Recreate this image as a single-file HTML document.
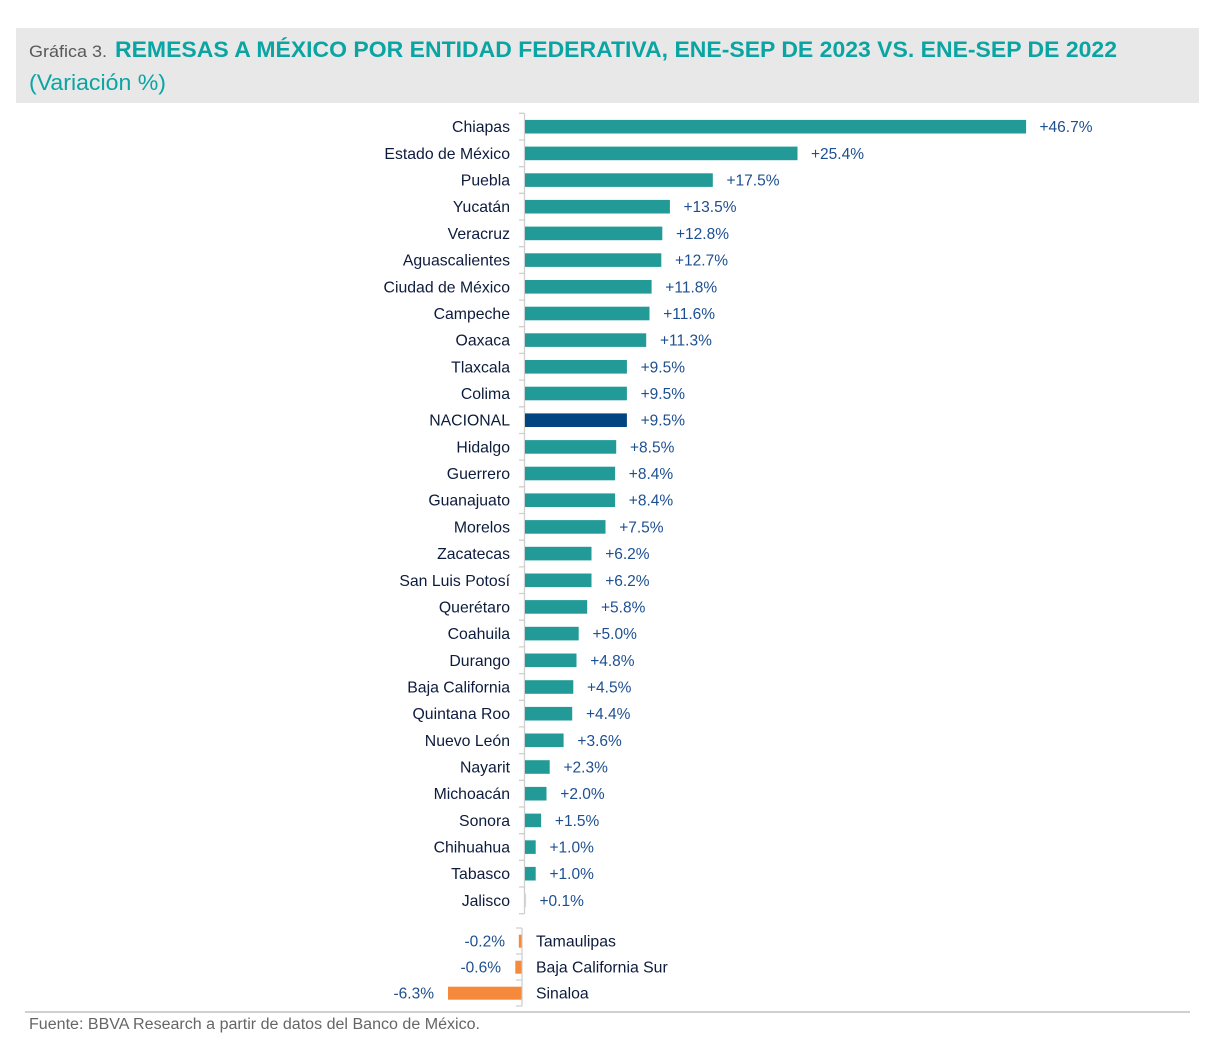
<!DOCTYPE html>
<html><head><meta charset="utf-8"><style>
html,body{margin:0;padding:0;background:#fff;}
svg{display:block;}
text{font-family:"Liberation Sans",Arial,sans-serif;}
.l{font-size:15.8px;fill:#0d1b3c;text-anchor:end;}
.v{font-size:15.5px;fill:#1d4f91;}
.vn{font-size:15.5px;fill:#1d4f91;text-anchor:end;}
.ln{font-size:15.8px;fill:#0d1b3c;}
</style></head><body>
<svg width="1212" height="1040" viewBox="0 0 1212 1040" xmlns="http://www.w3.org/2000/svg">
<rect x="16" y="28" width="1183" height="75" fill="#e8e8e8"/>
<text x="29" y="57" font-size="17" fill="#595959" textLength="78" lengthAdjust="spacingAndGlyphs">Gráfica 3.</text>
<text x="115" y="57" font-size="22" font-weight="bold" fill="#0aa5a3" textLength="1002" lengthAdjust="spacingAndGlyphs">REMESAS A MÉXICO POR ENTIDAD FEDERATIVA, ENE-SEP DE 2023 VS. ENE-SEP DE 2022</text>
<text x="29" y="90" font-size="22.5" fill="#0aa5a3" textLength="137" lengthAdjust="spacingAndGlyphs">(Variación %)</text>

<path d="M524.5 113.3V913.7" stroke="#cfcfcf" stroke-width="1.3" fill="none"/>
<path d="M519 113.3H524.5M519 140H524.5M519 166.7H524.5M519 193.3H524.5M519 220H524.5M519 246.7H524.5M519 273.4H524.5M519 300.1H524.5M519 326.7H524.5M519 353.4H524.5M519 380.1H524.5M519 406.8H524.5M519 433.5H524.5M519 460.1H524.5M519 486.8H524.5M519 513.5H524.5M519 540.2H524.5M519 566.9H524.5M519 593.5H524.5M519 620.2H524.5M519 646.9H524.5M519 673.6H524.5M519 700.3H524.5M519 726.9H524.5M519 753.6H524.5M519 780.3H524.5M519 807H524.5M519 833.7H524.5M519 860.3H524.5M519 887H524.5M519 913.7H524.5" stroke="#cfcfcf" stroke-width="1.3" fill="none"/>

<g fill="#229a97">
<rect x="525" y="119.9" width="501.1" height="13.6"/>
<rect x="525" y="146.6" width="272.5" height="13.6"/>
<rect x="525" y="173.3" width="187.8" height="13.6"/>
<rect x="525" y="199.9" width="144.9" height="13.6"/>
<rect x="525" y="226.6" width="137.3" height="13.6"/>
<rect x="525" y="253.3" width="136.3" height="13.6"/>
<rect x="525" y="280" width="126.6" height="13.6"/>
<rect x="525" y="306.7" width="124.5" height="13.6"/>
<rect x="525" y="333.3" width="121.2" height="13.6"/>
<rect x="525" y="360" width="101.9" height="13.6"/>
<rect x="525" y="386.7" width="101.9" height="13.6"/>
<rect x="525" y="440.1" width="91.2" height="13.6"/>
<rect x="525" y="466.7" width="90.1" height="13.6"/>
<rect x="525" y="493.4" width="90.1" height="13.6"/>
<rect x="525" y="520.1" width="80.5" height="13.6"/>
<rect x="525" y="546.8" width="66.5" height="13.6"/>
<rect x="525" y="573.5" width="66.5" height="13.6"/>
<rect x="525" y="600.1" width="62.2" height="13.6"/>
<rect x="525" y="626.8" width="53.7" height="13.6"/>
<rect x="525" y="653.5" width="51.5" height="13.6"/>
<rect x="525" y="680.2" width="48.3" height="13.6"/>
<rect x="525" y="706.9" width="47.2" height="13.6"/>
<rect x="525" y="733.5" width="38.6" height="13.6"/>
<rect x="525" y="760.2" width="24.7" height="13.6"/>
<rect x="525" y="786.9" width="21.5" height="13.6"/>
<rect x="525" y="813.6" width="16.1" height="13.6"/>
<rect x="525" y="840.3" width="10.7" height="13.6"/>
<rect x="525" y="866.9" width="10.7" height="13.6"/>
</g>
<rect x="525" y="893.6" width="1.1" height="13.6" fill="#bfe0de"/>
<rect x="525" y="413.4" width="101.9" height="13.6" fill="#004481"/>

<g>
<text class="l" x="510" y="132.2">Chiapas</text>
<text class="l" x="510" y="158.9">Estado de México</text>
<text class="l" x="510" y="185.6">Puebla</text>
<text class="l" x="510" y="212.2">Yucatán</text>
<text class="l" x="510" y="238.9">Veracruz</text>
<text class="l" x="510" y="265.6">Aguascalientes</text>
<text class="l" x="510" y="292.3">Ciudad de México</text>
<text class="l" x="510" y="319">Campeche</text>
<text class="l" x="510" y="345.6">Oaxaca</text>
<text class="l" x="510" y="372.3">Tlaxcala</text>
<text class="l" x="510" y="399">Colima</text>
<text class="l" x="510" y="425.7">NACIONAL</text>
<text class="l" x="510" y="452.4">Hidalgo</text>
<text class="l" x="510" y="479">Guerrero</text>
<text class="l" x="510" y="505.7">Guanajuato</text>
<text class="l" x="510" y="532.4">Morelos</text>
<text class="l" x="510" y="559.1">Zacatecas</text>
<text class="l" x="510" y="585.8">San Luis Potosí</text>
<text class="l" x="510" y="612.4">Querétaro</text>
<text class="l" x="510" y="639.1">Coahuila</text>
<text class="l" x="510" y="665.8">Durango</text>
<text class="l" x="510" y="692.5">Baja California</text>
<text class="l" x="510" y="719.2">Quintana Roo</text>
<text class="l" x="510" y="745.8">Nuevo León</text>
<text class="l" x="510" y="772.5">Nayarit</text>
<text class="l" x="510" y="799.2">Michoacán</text>
<text class="l" x="510" y="825.9">Sonora</text>
<text class="l" x="510" y="852.6">Chihuahua</text>
<text class="l" x="510" y="879.2">Tabasco</text>
<text class="l" x="510" y="905.9">Jalisco</text>
</g>

<g>
<text class="v" x="1039.5" y="132.2">+46.7%</text>
<text class="v" x="811" y="158.9">+25.4%</text>
<text class="v" x="726.5" y="185.6">+17.5%</text>
<text class="v" x="683.5" y="212.2">+13.5%</text>
<text class="v" x="676" y="238.9">+12.8%</text>
<text class="v" x="675" y="265.6">+12.7%</text>
<text class="v" x="665.3" y="292.3">+11.8%</text>
<text class="v" x="663.2" y="319">+11.6%</text>
<text class="v" x="660" y="345.6">+11.3%</text>
<text class="v" x="640.6" y="372.3">+9.5%</text>
<text class="v" x="640.6" y="399">+9.5%</text>
<text class="v" x="640.6" y="425.7">+9.5%</text>
<text class="v" x="630" y="452.4">+8.5%</text>
<text class="v" x="628.8" y="479">+8.4%</text>
<text class="v" x="628.8" y="505.7">+8.4%</text>
<text class="v" x="619.2" y="532.4">+7.5%</text>
<text class="v" x="605.2" y="559.1">+6.2%</text>
<text class="v" x="605.2" y="585.8">+6.2%</text>
<text class="v" x="601" y="612.4">+5.8%</text>
<text class="v" x="592.5" y="639.1">+5.0%</text>
<text class="v" x="590.2" y="665.8">+4.8%</text>
<text class="v" x="587" y="692.5">+4.5%</text>
<text class="v" x="586" y="719.2">+4.4%</text>
<text class="v" x="577.4" y="745.8">+3.6%</text>
<text class="v" x="563.5" y="772.5">+2.3%</text>
<text class="v" x="560.3" y="799.2">+2.0%</text>
<text class="v" x="554.9" y="825.9">+1.5%</text>
<text class="v" x="549.5" y="852.6">+1.0%</text>
<text class="v" x="549.5" y="879.2">+1.0%</text>
<text class="v" x="539.5" y="905.9">+0.1%</text>
</g>

<path d="M522 928V1006M516 928H522M516 954H522M516 980H522M516 1006H522" stroke="#cfcfcf" stroke-width="1.3" fill="none"/>
<g fill="#f58a3d">
<rect x="518.8" y="934.7" width="2.7" height="13"/>
<rect x="515.3" y="960.7" width="6.2" height="13"/>
<rect x="448" y="986.7" width="73.5" height="13"/>
</g>
<text class="vn" x="505" y="946.7">-0.2%</text>
<text class="vn" x="501" y="972.7">-0.6%</text>
<text class="vn" x="434" y="998.7">-6.3%</text>
<text class="ln" x="536" y="946.7">Tamaulipas</text>
<text class="ln" x="536" y="972.7">Baja California Sur</text>
<text class="ln" x="536" y="998.7">Sinaloa</text>

<path d="M25 1012H1190" stroke="#d0d0d0" stroke-width="2" fill="none"/>
<text x="29" y="1029" font-size="15.5" fill="#666666" textLength="451" lengthAdjust="spacingAndGlyphs">Fuente: BBVA Research a partir de datos del Banco de México.</text>
</svg>
</body></html>
